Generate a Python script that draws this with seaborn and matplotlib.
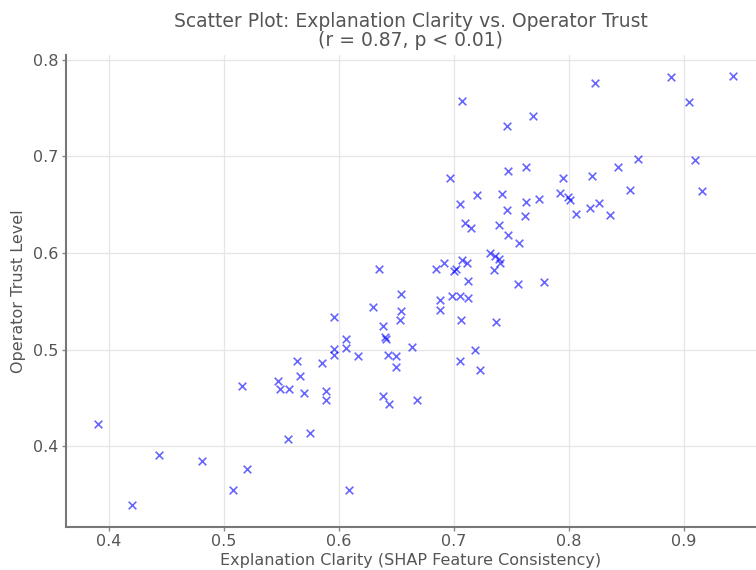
import matplotlib
matplotlib.use("Agg")
import matplotlib.pyplot as plt
import seaborn as sns
import pandas as pd

# Data
clarity = [
    0.391, 0.420, 0.444, 0.481, 0.508, 0.520, 0.516, 0.547, 0.549, 0.557,
    0.564, 0.566, 0.570, 0.556, 0.575, 0.585, 0.589, 0.589, 0.596, 0.596,
    0.596, 0.606, 0.606, 0.617, 0.609, 0.630, 0.638, 0.640, 0.641, 0.643,
    0.650, 0.650, 0.638, 0.644, 0.668, 0.664, 0.654, 0.654, 0.653, 0.688,
    0.688, 0.698, 0.705, 0.712, 0.706, 0.737, 0.705, 0.718, 0.723, 0.712,
    0.756, 0.778, 0.707, 0.746, 0.769, 0.697, 0.747, 0.763, 0.705, 0.720,
    0.742, 0.763, 0.774, 0.746, 0.762, 0.710, 0.715, 0.739, 0.747, 0.757,
    0.731, 0.736, 0.739, 0.740, 0.735, 0.707, 0.711, 0.702, 0.700, 0.691,
    0.684, 0.635, 0.823, 0.889, 0.943, 0.904, 0.860, 0.910, 0.843, 0.795,
    0.820, 0.853, 0.916, 0.792, 0.799, 0.801, 0.826, 0.818, 0.836, 0.806,
]
trust = [
    0.423, 0.339, 0.391, 0.385, 0.355, 0.377, 0.462, 0.468, 0.459, 0.459,
    0.488, 0.473, 0.455, 0.408, 0.414, 0.486, 0.457, 0.448, 0.534, 0.501,
    0.494, 0.511, 0.502, 0.493, 0.355, 0.544, 0.525, 0.513, 0.511, 0.494,
    0.493, 0.482, 0.452, 0.444, 0.448, 0.503, 0.558, 0.540, 0.531, 0.551,
    0.541, 0.556, 0.556, 0.553, 0.531, 0.529, 0.488, 0.500, 0.479, 0.571,
    0.568, 0.570, 0.757, 0.731, 0.742, 0.678, 0.685, 0.689, 0.651, 0.660,
    0.661, 0.653, 0.656, 0.644, 0.638, 0.631, 0.626, 0.629, 0.619, 0.610,
    0.600, 0.597, 0.594, 0.590, 0.582, 0.593, 0.590, 0.583, 0.581, 0.590,
    0.583, 0.583, 0.776, 0.782, 0.783, 0.756, 0.697, 0.696, 0.689, 0.678,
    0.680, 0.665, 0.664, 0.662, 0.658, 0.655, 0.652, 0.646, 0.639, 0.640,
]

df = pd.DataFrame({"clarity": clarity, "trust": trust})

sns.set_theme(style="whitegrid")
plt.rcParams["font.family"] = ["DejaVu Sans"]

TEXT = "#555555"

fig = plt.figure(figsize=(7.56, 5.70), dpi=100)
ax = fig.add_axes([0.087, 0.076, 0.913, 0.828])

sns.scatterplot(data=df, x="clarity", y="trust", ax=ax, marker="x",
                color="#0000ff", alpha=0.6, s=30, linewidth=1.2)

ax.set_xlim(0.3626, 0.9626)
ax.set_ylim(0.317, 0.805)
ax.set_xticks([0.4, 0.5, 0.6, 0.7, 0.8, 0.9])
ax.set_yticks([0.4, 0.5, 0.6, 0.7, 0.8])

ax.grid(True, color="#e6e6e6", linewidth=0.9)
sns.despine(ax=ax)
for side in ["left", "bottom"]:
    ax.spines[side].set_color("#777777")
    ax.spines[side].set_linewidth(1.5)
ax.tick_params(axis="both", colors="#888888", labelcolor=TEXT, labelsize=11.5,
               length=3, width=1, pad=2, direction="out", left=True, bottom=True)

ax.set_xlabel("Explanation Clarity (SHAP Feature Consistency)", fontsize=11.5,
              color=TEXT, labelpad=3)
ax.set_ylabel("Operator Trust Level", fontsize=11.5, color=TEXT, labelpad=5)
ax.set_title("Scatter Plot: Explanation Clarity vs. Operator Trust\n(r = 0.87, p < 0.01)",
             fontsize=13.5, color=TEXT, pad=6, linespacing=1.05)

fig.savefig("out.png", dpi=100)
